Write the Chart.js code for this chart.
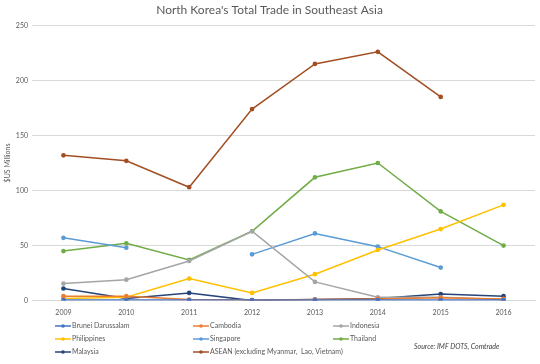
<!DOCTYPE html>
<html>
<head>
<meta charset="utf-8">
<script src="https://cdn.jsdelivr.net/npm/chart.js@4"></script>
<style>
  html, body { margin: 0; padding: 0; background: #fff; }
  #wrap { width: 540px; height: 364px; }
</style>
</head>
<body>
<div id="wrap"><canvas id="chartTrade"></canvas></div>
<script>
const annees = ['2009', '2010', '2011', '2012', '2013', '2014', '2015', '2016'];
const yTicks = [0, 50, 100, 150, 200, 250];

const brunei      = [0.5, 0.5, 0.5, 0.5, 0.5, 0.5, 0.5, 0.5];
const cambodia    = [4, 4, 1, 0.5, 1, 1.5, 2.5, 1.5];
const indonesia   = [15.5, 19, 36, 63, 17, 3, 3, 1];
const philippines = [2, 3, 20, 7, 24, 46, 65, 87];
const singapore   = [57, 48, null, 42, 61, 49, 30, null];
const thailand    = [45, 52, 37, 63, 112, 125, 81, 50];
const malaysia    = [11, 2, 7, 0, 1, 2, 6, 4];
const asean       = [132, 127, 103, 174, 215, 226, 185, null];

const series = [
  { label: 'Brunei Darussalam', data: brunei, color: '#4472C4' },
  { label: 'Cambodia', data: cambodia, color: '#ED7D31' },
  { label: 'Indonesia', data: indonesia, color: '#A5A5A5' },
  { label: 'Philippines', data: philippines, color: '#FFC000' },
  { label: 'Singapore', data: singapore, color: '#5B9BD5' },
  { label: 'Thailand', data: thailand, color: '#70AD47' },
  { label: 'Malaysia', data: malaysia, color: '#264478' },
  { label: 'ASEAN (excluding Myanmar,  Lao, Vietnam)', data: asean, color: '#A24F24' }
];

const police = 'Lato, "Open Sans", sans-serif';

// légende en 3 colonnes + source, dessinées sous le graphique
const legendePlugin = {
  id: 'legende3col',
  afterDraw(chart) {
    const ctx = chart.ctx;
    const colX = [57, 195, 335];
    const rowY = [326, 339, 352];
    ctx.save();
    ctx.font = '7px ' + police;
    ctx.textBaseline = 'middle';
    chart.data.datasets.forEach((ds, i) => {
      const x = colX[i % 3];
      const y = rowY[Math.floor(i / 3)];
      ctx.strokeStyle = ds.borderColor;
      ctx.lineWidth = 1.5;
      ctx.beginPath();
      ctx.moveTo(x - 2, y);
      ctx.lineTo(x + 14, y);
      ctx.stroke();
      ctx.fillStyle = ds.borderColor;
      ctx.beginPath();
      ctx.arc(x + 6, y, 1.8, 0, Math.PI * 2);
      ctx.fill();
      ctx.fillStyle = '#595959';
      ctx.textAlign = 'left';
      ctx.fillText(ds.label, x + 15, y);
    });
    ctx.font = 'italic 7px ' + police;
    ctx.fillStyle = '#404040';
    ctx.fillText('Source: IMF DOTS, Comtrade', 414, 347);
    ctx.restore();
  }
};

const ctx = document.getElementById('chartTrade').getContext('2d');
new Chart(ctx, {
  type: 'line',
  data: {
    labels: annees,
    datasets: series.map(s => ({
      label: s.label,
      data: s.data,
      borderColor: s.color,
      backgroundColor: s.color,
      borderWidth: 1.5,
      pointRadius: 1.6,
      pointHoverRadius: 1.6,
      spanGaps: false,
      tension: 0
    }))
  },
  options: {
    responsive: true,
    maintainAspectRatio: false,
    animation: false,
    layout: { padding: { left: 4, right: 5, top: 0, bottom: 47 } },
    plugins: {
      legend: { display: false },
      tooltip: { enabled: false },
      title: {
        display: true,
        text: "North Korea's Total Trade in Southeast Asia",
        color: '#595959',
        font: { family: police, size: 12, weight: 'normal' },
        padding: { top: 3, bottom: 8 }
      }
    },
    scales: {
      x: {
        offset: true,
        grid: { display: false },
        border: { color: '#d9d9d9' },
        ticks: { color: '#595959', font: { family: police, size: 7 }, maxRotation: 0, padding: 0 }
      },
      y: {
        min: 0,
        max: 250,
        afterBuildTicks: axis => { axis.ticks = yTicks.map(v => ({ value: v })); },
        afterFit: axis => { axis.width = 28; },
        grid: { color: '#d9d9d9', drawTicks: false },
        border: { display: false },
        ticks: { color: '#595959', font: { family: police, size: 7 }, padding: 4 },
        title: {
          display: true,
          text: '$US Millions',
          color: '#595959',
          font: { family: police, size: 7 },
          padding: 0
        }
      }
    }
  },
  plugins: [legendePlugin]
});
</script>
</body>
</html>
